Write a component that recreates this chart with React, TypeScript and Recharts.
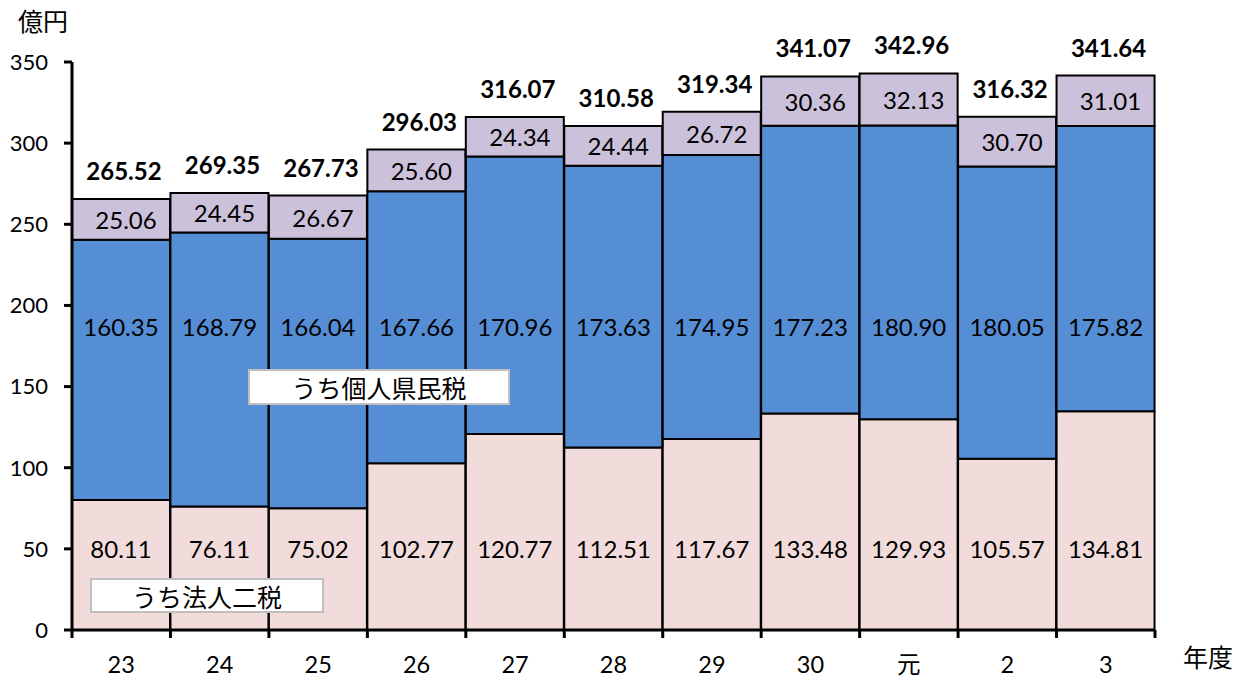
import { Bar, BarChart, LabelList, XAxis, YAxis } from "recharts";

// 年度
const CATEGORIES = ["23", "24", "25", "26", "27", "28", "29", "30", "元", "2", "3"];
// うち法人二税
const HOJIN = [80.11, 76.11, 75.02, 102.77, 120.77, 112.51, 117.67, 133.48, 129.93, 105.57, 134.81];
// うち個人県民税
const KOJIN = [160.35, 168.79, 166.04, 167.66, 170.96, 173.63, 174.95, 177.23, 180.9, 180.05, 175.82];
// その他
const OTHER = [25.06, 24.45, 26.67, 25.6, 24.34, 24.44, 26.72, 30.36, 32.13, 30.7, 31.01];
// 合計
const TOTALS = [265.52, 269.35, 267.73, 296.03, 316.07, 310.58, 319.34, 341.07, 342.96, 316.32, 341.64];
const Y_TICKS = [0, 50, 100, 150, 200, 250, 300, 350];

const W = 1238;
const H = 680;
const MARGIN = { top: 62, right: 83, left: 0, bottom: 0 };
const Y_AXIS_W = 72;
const X_AXIS_H = 50;
const BAND = (W - MARGIN.right - Y_AXIS_W) / CATEGORIES.length;

// 下2段のラベルは値軸上の固定位置に置く
const HOJIN_LABEL_AT = 50;
const KOJIN_LABEL_AT = 187;

const FONT = "Lato, 'Noto Sans CJK JP', sans-serif";

const data = CATEGORIES.map((name, i) => ({
  name,
  hojin: HOJIN[i],
  kojin: KOJIN[i],
  other: OTHER[i],
  total: TOTALS[i],
}));

const fmt = (v: number) => v.toFixed(2);

const segmentLabel =
  (labelAt: number | null, base: number[] | null, dx = 0) =>
  (props: any) => {
    const { x, y, width, height, value, index } = props;
    const v = Number(value);
    let ty = y + height / 2;
    if (labelAt != null) {
      const ppu = height / v;
      const b = base ? base[index] : 0;
      ty = y + height - (labelAt - b) * ppu;
    }
    return (
      <text
        x={x + width / 2 + dx}
        y={ty}
        textAnchor="middle"
        dominantBaseline="central"
        fontSize={24}
        fill="#000"
        fontFamily={FONT}
      >
        {fmt(v)}
      </text>
    );
  };

const TotalLabel = (props: any) => {
  const { x, y, width, value } = props;
  return (
    <text
      x={x + width / 2 + 3}
      y={y - 19}
      textAnchor="middle"
      fontSize={24}
      fontWeight="bold"
      fill="#000"
      fontFamily={FONT}
    >
      {fmt(Number(value))}
    </text>
  );
};

const XTick = (props: any) => {
  const { x, y, payload, index } = props;
  const last = index === CATEGORIES.length - 1;
  return (
    <g>
      <line x1={x - BAND / 2} x2={x - BAND / 2} y1={y} y2={y + 8} stroke="#000" strokeWidth={3} />
      {last && (
        <line x1={x + BAND / 2} x2={x + BAND / 2} y1={y} y2={y + 8} stroke="#000" strokeWidth={3} />
      )}
      <text x={x} y={y + 43} textAnchor="middle" fontSize={23.5} fill="#000" fontFamily={FONT}>
        {payload.value}
      </text>
    </g>
  );
};

const boxStyle = {
  position: "absolute" as const,
  background: "#fff",
  border: "2px solid #BFBFBF",
  boxSizing: "border-box" as const,
  display: "flex",
  alignItems: "center",
  justifyContent: "center",
  fontSize: 25,
  color: "#000",
};

export default function App() {
  return (
    <div style={{ position: "absolute", left: 0, top: 0, width: W, height: H, fontFamily: FONT, background: "#fff" }}>
      <BarChart width={W} height={H} data={data} margin={MARGIN} barCategoryGap={0}>
        <XAxis
          dataKey="name"
          height={X_AXIS_H}
          axisLine={{ stroke: "#000", strokeWidth: 3 }}
          tickLine={false}
          tickSize={0}
          tickMargin={0}
          tick={<XTick />}
          interval={0}
        />
        <YAxis
          width={Y_AXIS_W}
          domain={[0, 350]}
          ticks={Y_TICKS}
          interval={0}
          axisLine={{ stroke: "#000", strokeWidth: 3 }}
          tickLine={{ stroke: "#000", strokeWidth: 3 }}
          tickSize={8}
          tickMargin={16}
          tick={{ fontSize: 22, fill: "#000", fontFamily: FONT }}
        />
        <Bar dataKey="hojin" stackId="a" fill="#F2DCDB" stroke="#000" strokeWidth={2} isAnimationActive={false}>
          <LabelList dataKey="hojin" content={segmentLabel(HOJIN_LABEL_AT, null)} />
        </Bar>
        <Bar dataKey="kojin" stackId="a" fill="#558ED5" stroke="#000" strokeWidth={2} isAnimationActive={false}>
          <LabelList dataKey="kojin" content={segmentLabel(KOJIN_LABEL_AT, HOJIN)} />
        </Bar>
        <Bar dataKey="other" stackId="a" fill="#CCC1DA" stroke="#000" strokeWidth={2} isAnimationActive={false}>
          <LabelList dataKey="other" content={segmentLabel(null, null, 5)} />
          <LabelList dataKey="total" content={<TotalLabel />} />
        </Bar>
      </BarChart>
      <div style={{ position: "absolute", left: 18, top: 2, fontSize: 25 }}>億円</div>
      <div style={{ position: "absolute", left: 1183, top: 638, fontSize: 25 }}>年度</div>
      <div style={{ ...boxStyle, left: 248, top: 369, width: 262, height: 36 }}>うち個人県民税</div>
      <div style={{ ...boxStyle, left: 90, top: 578, width: 234, height: 35 }}>うち法人二税</div>
    </div>
  );
}
